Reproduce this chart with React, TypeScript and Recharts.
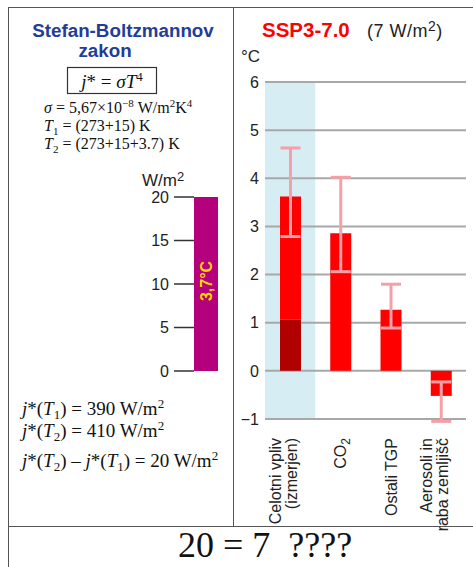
import { BarChart, Bar, XAxis, YAxis, ErrorBar, ReferenceArea, CartesianGrid, LabelList, ComposedChart } from 'recharts';

// levi graf: sprememba sevanja
const forcingCats = ['ΔF'];
const forcingValues = [20];
const forcingTicks = [0, 5, 10, 15, 20];
const forcingLabel = '3,7°C';

// desni graf: SSP3-7.0 prispevki k segrevanju
const categories = ['Celotni vpliv|(izmerjen)', 'CO2', 'Ostali TGP', 'Aerosoli in|raba zemljišč'];
const warming = [3.62, 2.86, 1.27, -0.52];
const observedPart = [1.06, 0, 0, 0];
const rangeLow = [2.79, 2.06, 0.89, -1.05];
const rangeHigh = [4.63, 4.02, 1.8, -0.23];
const tempTicks = [-1, 0, 1, 2, 3, 4, 5, 6];

const sans = '"Liberation Sans", Arial, sans-serif';
const serif = '"Liberation Serif", "Times New Roman", serif';

const forcingData = forcingCats.map((name, i) => ({ name, value: forcingValues[i] }));

const tempData = categories.map((name, i) => ({
  name,
  dark: observedPart[i],
  rest: warming[i] - observedPart[i],
  err: [warming[i] - rangeLow[i], rangeHigh[i] - warming[i]],
}));

const ForcingLabel = (props: any) => {
  const { x, y, width, height } = props;
  const cx = x + width / 2 + 6;
  const cy = y + height / 2 - 3;
  return (
    <text x={cx} y={cy} transform={`rotate(-90, ${cx}, ${cy})`} textAnchor="middle"
      fill="#ffd800" fontFamily={sans} fontWeight="bold" fontSize={16}>
      {forcingLabel}
    </text>
  );
};

const CatTick = (props: any) => {
  const { x, y, payload } = props;
  const lines: string[] = String(payload.value).split('|');
  const offsets = lines.length > 1 ? [-9, 7] : [6];
  const top = y + 11;
  return (
    <g>
      {lines.map((ln, i) => {
        const px = x + offsets[i];
        return (
          <text key={i} x={px} y={top} transform={`rotate(-90, ${px}, ${top})`} textAnchor="end"
            fill="#222" fontFamily={sans} fontSize={16}>
            {ln === 'CO2' ? (<>CO<tspan dy={4} fontSize={12}>2</tspan></>) : ln}
          </text>
        );
      })}
    </g>
  );
};

function App() {
  return (
    <div style={{ position: 'absolute', left: 0, top: 0, width: 473, height: 567, background: '#fff', overflow: 'hidden' }}>
      <div style={{ position: 'absolute', left: 0, top: 0 }}>
        <BarChart width={233} height={420} data={forcingData} barCategoryGap={0}
          margin={{ top: 197, right: 15, bottom: 49, left: 134 }}>
          <XAxis dataKey="name" hide />
          <YAxis width={60} domain={[0, 20]} ticks={forcingTicks} axisLine={false}
            tickLine={{ stroke: '#333', strokeWidth: 1.5 }} tickSize={20} tickMargin={5}
            tick={{ fill: '#222', fontSize: 16, fontFamily: sans }} />
          <Bar dataKey="value" fill="#b4007c" isAnimationActive={false}>
            <LabelList dataKey="value" content={<ForcingLabel />} />
          </Bar>
        </BarChart>
      </div>

      <div style={{ position: 'absolute', left: 233, top: 0 }}>
        <ComposedChart width={240} height={567} data={tempData} barSize={21}
          margin={{ top: 82, right: 7, bottom: 48, left: 2 }}>
          <ReferenceArea x1={categories[0]} x2={categories[0]} y1={-1} y2={6}
            fill="#d6edf3" fillOpacity={1} stroke="none" zIndex={-200} />
          <CartesianGrid vertical={false} stroke="#a8a8a8" strokeWidth={2} />
          <XAxis dataKey="name" height={100} axisLine={false} tickLine={false} interval={0} tick={<CatTick />} />
          <YAxis width={30} domain={[-1, 6]} ticks={tempTicks} axisLine={false} tickLine={false}
            tickSize={0} tickMargin={6} tickFormatter={(v: number) => String(v).replace('-', '−')}
            tick={{ fill: '#222', fontSize: 16, fontFamily: sans }} />
          <Bar dataKey="dark" stackId="a" fill="#b00000" isAnimationActive={false} />
          <Bar dataKey="rest" stackId="a" fill="#ff0000" isAnimationActive={false}>
            <ErrorBar dataKey="err" width={10} stroke="#f5a0a8" strokeWidth={3} />
          </Bar>
        </ComposedChart>
      </div>

      <svg width={473} height={567} style={{ position: 'absolute', left: 0, top: 0, pointerEvents: 'none' }}>
        <g stroke="#555" strokeWidth={1}>
          <line x1={8} y1={7.5} x2={473} y2={7.5} />
          <line x1={8.5} y1={7} x2={8.5} y2={567} />
          <line x1={233.5} y1={7} x2={233.5} y2={526} />
          <line x1={8} y1={526.5} x2={473} y2={526.5} />
        </g>

        <text x={123} y={37} textAnchor="middle" fontFamily={sans} fontWeight="bold" fontSize={18.8} fill="#1f3d99">Stefan-Boltzmannov</text>
        <text x={105} y={57} textAnchor="middle" fontFamily={sans} fontWeight="bold" fontSize={18.8} fill="#1f3d99">zakon</text>

        <rect x={67.5} y={67.5} width={89} height={26} fill="none" stroke="#333" strokeWidth={1.2} />
        <text x={112} y={88} textAnchor="middle" fontFamily={serif} fontSize={19} fill="#111">
          <tspan fontStyle="italic">j</tspan>* = <tspan fontStyle="italic">σT</tspan><tspan dy={-7} fontSize={13}>4</tspan>
        </text>

        <g fontFamily={serif} fontSize={16} fill="#111">
          <text x={44} y={113}>
            <tspan fontStyle="italic">σ</tspan> = 5,67×10<tspan dy={-6} fontSize={11}>−8</tspan><tspan dy={6}> W/m</tspan><tspan dy={-6} fontSize={11}>2</tspan><tspan dy={6}>K</tspan><tspan dy={-6} fontSize={11}>4</tspan>
          </text>
          <text x={44} y={131}>
            <tspan fontStyle="italic">T</tspan><tspan dy={4} fontSize={11}>1</tspan><tspan dy={-4}> = (273+15) K</tspan>
          </text>
          <text x={44} y={149}>
            <tspan fontStyle="italic">T</tspan><tspan dy={4} fontSize={11}>2</tspan><tspan dy={-4}> = (273+15+3.7) K</tspan>
          </text>
        </g>

        <text x={142} y={186} fontFamily={sans} fontSize={17} fill="#222">W/m<tspan dy={-5} fontSize={13}>2</tspan></text>

        <g fontFamily={serif} fontSize={19} fill="#111">
          <text x={22} y={415}>
            <tspan fontStyle="italic">j</tspan>*(<tspan fontStyle="italic">T</tspan><tspan dy={4} fontSize={13}>1</tspan><tspan dy={-4}>) = 390 W/m</tspan><tspan dy={-7} fontSize={13}>2</tspan>
          </text>
          <text x={22} y={437}>
            <tspan fontStyle="italic">j</tspan>*(<tspan fontStyle="italic">T</tspan><tspan dy={4} fontSize={13}>2</tspan><tspan dy={-4}>) = 410 W/m</tspan><tspan dy={-7} fontSize={13}>2</tspan>
          </text>
          <text x={22} y={467}>
            <tspan fontStyle="italic">j</tspan>*(<tspan fontStyle="italic">T</tspan><tspan dy={4} fontSize={13}>2</tspan><tspan dy={-4}>) – </tspan><tspan fontStyle="italic">j</tspan>*(<tspan fontStyle="italic">T</tspan><tspan dy={4} fontSize={13}>1</tspan><tspan dy={-4}>) = 20 W/m</tspan><tspan dy={-7} fontSize={13}>2</tspan>
          </text>
        </g>

        <text x={262} y={37} fontFamily={sans} fontWeight="bold" fontSize={20.5} fill="#ff0000">SSP3-7.0</text>
        <text x={367} y={37} fontFamily={sans} fontSize={18} fill="#222" letterSpacing={0.5}>(7 W/m<tspan dy={-6} fontSize={14}>2</tspan><tspan dy={6}>)</tspan></text>
        <text x={241} y={62} fontFamily={sans} fontSize={17} fill="#222">°C</text>

        <text x={265} y={557} textAnchor="middle" fontFamily={serif} fontSize={36} fill="#111" style={{ whiteSpace: 'pre' }}>20 = 7  ????</text>
      </svg>
    </div>
  );
}

export default App;
